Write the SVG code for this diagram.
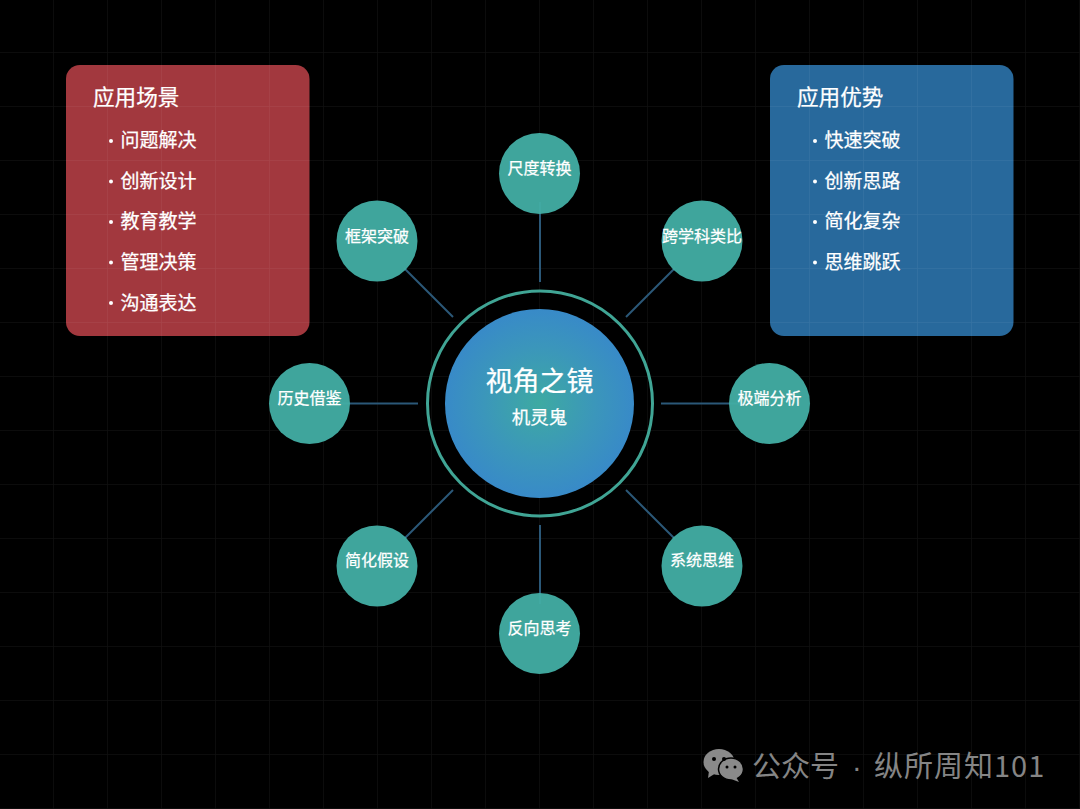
<svg xmlns="http://www.w3.org/2000/svg" width="1080" height="809" viewBox="0 0 1080 809">
<defs>
<radialGradient id="hub" cx="50%" cy="50%" r="50%"><stop offset="0" stop-color="#3eaaa2"/><stop offset="0.6" stop-color="#3b96bb"/><stop offset="1" stop-color="#388ac8"/></radialGradient>
<pattern id="grid" x="53" y="52" width="54" height="54" patternUnits="userSpaceOnUse"><path d="M0 0V54M0 0H54" fill="none" stroke="#fff" stroke-opacity="0.06" stroke-width="1.5"/></pattern>
</defs>
<style>
text{font-family:"Noto Sans CJK SC","Liberation Sans",sans-serif;fill:#fff;stroke:#fff;stroke-width:.25px}
.sat{fill:#42aea4;fill-opacity:.95}
.satl{font-size:16px;font-weight:400;text-anchor:middle}
.title{font-size:21.600px;font-weight:400}
.item{font-size:19px;font-weight:400}
.dot{fill:#fff}
.link{stroke:#2b5878;stroke-width:2;fill:none}
.wm{fill:#858585;stroke:none}
</style>
<rect width="1080" height="809" fill="#000"/>
<g id="panel-left"><rect x="66" y="65" width="243.500" height="271" rx="14" fill="#a2383e"/>
<text class="title" x="93" y="105">应用场景</text>
<circle class="dot" cx="111" cy="141" r="2"/><text class="item" x="120.500" y="147">问题解决</text>
<circle class="dot" cx="111" cy="181.500" r="2"/><text class="item" x="120.500" y="188">创新设计</text>
<circle class="dot" cx="111" cy="222" r="2"/><text class="item" x="120.500" y="228">教育教学</text>
<circle class="dot" cx="111" cy="262.500" r="2"/><text class="item" x="120.500" y="269">管理决策</text>
<circle class="dot" cx="111" cy="303" r="2"/><text class="item" x="120.500" y="309.500">沟通表达</text></g>
<g id="panel-right"><rect x="770" y="65" width="243.500" height="271" rx="14" fill="#28699c"/>
<text class="title" x="797" y="105">应用优势</text>
<circle class="dot" cx="815" cy="141" r="2"/><text class="item" x="824.500" y="147">快速突破</text>
<circle class="dot" cx="815" cy="181.500" r="2"/><text class="item" x="824.500" y="187.500">创新思路</text>
<circle class="dot" cx="815" cy="222" r="2"/><text class="item" x="824.500" y="228">简化复杂</text>
<circle class="dot" cx="815" cy="262.500" r="2"/><text class="item" x="824.500" y="269">思维跳跃</text></g>
<rect width="1080" height="809" fill="url(#grid)"/>
<g id="connectors">
<path class="link" d="M540 282V202"/>
<path class="link" d="M626 317L675 268"/>
<path class="link" d="M661 403.500H740"/>
<path class="link" d="M626 490L675 539"/>
<path class="link" d="M540 525V604"/>
<path class="link" d="M453 490L404 539"/>
<path class="link" d="M418 403.500H339"/>
<path class="link" d="M453 317L404 268"/>
</g>
<g id="hub-node"><circle cx="540" cy="403.500" r="112.500" fill="none" stroke="#40a595" stroke-width="3"/>
<circle cx="539.500" cy="403.500" r="94.500" fill="url(#hub)"/>
<text x="539.500" y="391" font-size="27" font-weight="400" text-anchor="middle">视角之镜</text>
<text x="539.500" y="424" font-size="18.500" font-weight="400" text-anchor="middle">机灵鬼</text></g>
<g id="n1"><circle class="sat" cx="539.500" cy="173.500" r="40.500"/><text class="satl" x="539.500" y="174">尺度转换</text></g>
<g id="n2"><circle class="sat" cx="702" cy="241" r="40.500"/><text class="satl" x="702" y="241.500">跨学科类比</text></g>
<g id="n3"><circle class="sat" cx="769.500" cy="403.500" r="40.500"/><text class="satl" x="769.500" y="403.500">极端分析</text></g>
<g id="n4"><circle class="sat" cx="702" cy="566" r="40.500"/><text class="satl" x="702" y="566">系统思维</text></g>
<g id="n5"><circle class="sat" cx="539.500" cy="633.500" r="40.500"/><text class="satl" x="539.500" y="633.500">反向思考</text></g>
<g id="n6"><circle class="sat" cx="377" cy="566" r="40.500"/><text class="satl" x="377" y="566">简化假设</text></g>
<g id="n7"><circle class="sat" cx="309.500" cy="403.500" r="40.500"/><text class="satl" x="309.500" y="403.500">历史借鉴</text></g>
<g id="n8"><circle class="sat" cx="377" cy="241" r="40.500"/><text class="satl" x="377" y="241.500">框架突破</text></g>
<g id="watermark">
<ellipse cx="719" cy="762" rx="15.500" ry="13" fill="#8a8a8a"/><path d="M709 771L708 778L716 773Z" fill="#8a8a8a"/>
<ellipse cx="731" cy="769" rx="12.500" ry="11" fill="#8a8a8a" stroke="#000" stroke-width="1.500"/><path d="M736 777L739 782L731 779Z" fill="#8a8a8a"/>
<circle cx="714" cy="759" r="2" fill="#000"/><circle cx="724" cy="759" r="2" fill="#000"/><circle cx="727" cy="767" r="1.500" fill="#000"/><circle cx="735" cy="767" r="1.500" fill="#000"/>
<text class="wm" y="777" font-size="29" font-weight="400"><tspan x="752">公众号</tspan><tspan x="852" style="font-family:'Liberation Sans',sans-serif">·</tspan><tspan x="874" letter-spacing="1">纵所周知101</tspan></text>
</g>
</svg>
